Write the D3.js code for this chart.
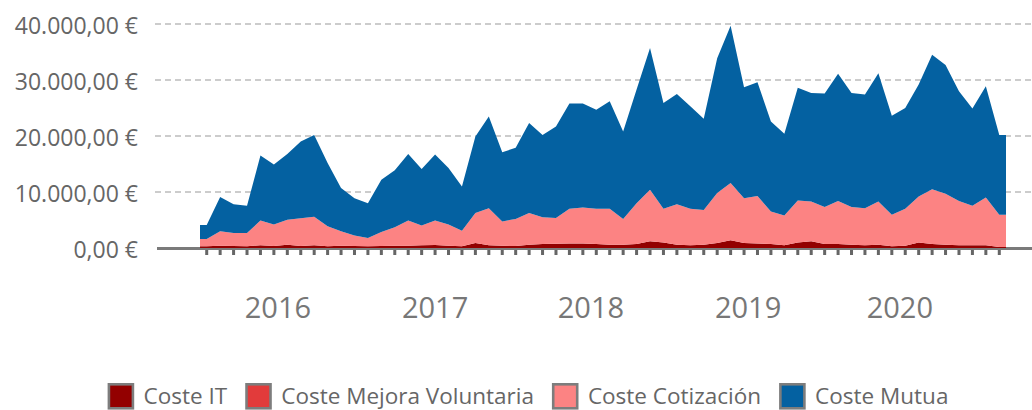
<!DOCTYPE html>
<html>
<head>
<meta charset="utf-8">
<script src="https://cdn.jsdelivr.net/npm/d3@7"></script>
<style>
    body { margin: 0; background: #fff; }
    svg { display: block; font-family: "Open Sans", sans-serif; }
</style>
</head>
<body>
<div id="chart"></div>
<script>
// monthly categories
var months = d3.timeMonth.range(new Date(2016, 0, 1), new Date(2021, 0, 1));

var costeIT = [300,400,350,300,500,350,600,350,500,300,
    400,350,300,350,400,400,500,550,400,300,
    900,500,400,350,600,700,750,800,800,700,
    600,600,700,1200,1000,600,500,600,900,1400,
    900,800,700,500,1000,1200,700,700,600,500,
    600,300,400,1000,700,600,500,500,500,200];

var costeMejora = [0,0,0,0,0,0,0,0,0,0,
    0,0,0,0,0,0,0,0,0,0,
    0,0,0,0,0,0,0,0,0,0,
    0,0,0,0,0,0,0,0,0,0,
    0,0,0,0,0,0,0,0,0,0,
    0,0,0,0,0,0,0,0,0,0];

var costeCotizacion = [1300,2600,2350,2400,4400,3850,4450,4950,5100,3600,
    2600,1900,1500,2500,3300,4500,3500,4350,3800,2800,
    5350,6600,4350,4850,5650,4800,4600,6200,6450,6300,
    6400,4600,7300,9200,6000,7200,6500,6200,8900,10200,
    8000,8500,5800,5300,7500,7100,6600,7700,6700,6600,
    7700,5650,6600,8200,9800,9100,7900,7050,8500,5750];

var costeMutua = [2500,6100,5100,4850,11600,10700,11750,13700,14600,11300,
    7700,6650,6200,9350,10200,11900,10100,11800,10100,7900,
    13650,16400,12350,12700,16050,14700,16350,18800,18550,17700,
    19200,15600,20300,25300,18900,19700,18300,16300,24100,28100,
    19800,20300,16100,14600,20100,19400,20300,22700,20400,20300,
    22900,17650,18000,20000,24000,23000,19600,17350,19900,14250];

var seriesKeys = ["it", "mejora", "cotizacion", "mutua"];
var seriesNames = ["Coste IT", "Coste Mejora Voluntaria", "Coste Cotización", "Coste Mutua"];
var seriesColors = ["#930000", "#e23b3b", "#fc8383", "#0461a1"];

var yTicks = [0, 10000, 20000, 30000, 40000];
var years = ["2016", "2017", "2018", "2019", "2020"];
var yearPos = [5.3, 17.0, 28.6, 40.3, 51.6];   // month index under each year label

var margin = { top: 24, right: 26, bottom: 162, left: 200 };
var width = 1032 - margin.left - margin.right;
var height = 410 - margin.top - margin.bottom;

var svg = d3.select("#chart").append("svg")
    .attr("width", width + margin.left + margin.right)
    .attr("height", height + margin.top + margin.bottom);

var g = svg.append("g")
    .attr("transform", "translate(" + margin.left + "," + margin.top + ")");

var n = months.length;
var rows = months.map(function (m, i) {
    return { date: m, it: costeIT[i], mejora: costeMejora[i], cotizacion: costeCotizacion[i], mutua: costeMutua[i] };
});

//scale
var x = d3.scaleLinear()
    .domain([-0.5, n - 0.5])
    .range([0, width]);

var y = d3.scaleLinear()
    .domain([0, 40000])
    .range([height, 0]);

var es = d3.formatLocale({ decimal: ",", thousands: ".", grouping: [3], currency: ["", " €"] });
var euro = es.format("$,.2f");

// grid
g.selectAll(".grid")
    .data(yTicks.filter(function (d) { return d > 0; }))
    .enter().append("line")
    .attr("class", "grid")
    .attr("x1", -45)
    .attr("x2", width + margin.right)
    .attr("y1", function (d) { return y(d); })
    .attr("y2", function (d) { return y(d); })
    .attr("stroke", "#bcbcbc")
    .attr("stroke-width", 1.5)
    .attr("stroke-dasharray", "6,4");

// zero line
g.append("line")
    .attr("x1", -43)
    .attr("x2", width + margin.right)
    .attr("y1", y(0) + 0.5)
    .attr("y2", y(0) + 0.5)
    .attr("stroke", "#7a7a7a")
    .attr("stroke-width", 3);

// y labels
g.selectAll(".ylab")
    .data(yTicks)
    .enter().append("text")
    .attr("class", "ylab")
    .attr("x", -62)
    .attr("y", function (d) { return y(d) + 10; })
    .attr("text-anchor", "end")
    .attr("fill", "#666")
    .style("font-size", "23px")
    .text(function (d) { return euro(d); });

// stacked areas
var stacked = d3.stack().keys(seriesKeys)(rows);

var area = d3.area()
    .x(function (d) { return x(d.i); })
    .y0(function (d) { return y(d.v[0]); })
    .y1(function (d) { return y(d.v[1]); });

stacked.forEach(function (s, k) {
    var pts = [{ i: -0.5, v: s[0] }]
        .concat(s.map(function (v, i) { return { i: i, v: v }; }))
        .concat([{ i: n - 0.5, v: s[n - 1] }]);
    g.append("path")
        .datum(pts)
        .attr("d", area)
        .attr("fill", seriesColors[k]);
});

// faint seams at each month
var top = stacked[stacked.length - 1];
g.selectAll(".seam")
    .data(top)
    .enter().append("line")
    .attr("x1", function (d, i) { return x(i); })
    .attr("x2", function (d, i) { return x(i); })
    .attr("y1", y(0))
    .attr("y2", function (d) { return y(d[1]) + 2; })
    .attr("stroke", "#ffffff")
    .attr("stroke-opacity", 0.13)
    .attr("stroke-width", 1);

// month ticks
g.selectAll(".tick")
    .data(months)
    .enter().append("rect")
    .attr("x", function (d, i) { return x(i) - 1.5; })
    .attr("y", y(0) + 2)
    .attr("width", 3)
    .attr("height", 5)
    .attr("fill", "#666");

// year labels
g.selectAll(".year")
    .data(years)
    .enter().append("text")
    .attr("x", function (d, i) { return x(yearPos[i]); })
    .attr("y", height + 70)
    .attr("text-anchor", "middle")
    .attr("fill", "#777")
    .style("font-size", "29px")
    .text(function (d) { return d; });

// legend
var legend = svg.append("g");
var lx = 0;
seriesNames.forEach(function (name, k) {
    var item = legend.append("g").attr("transform", "translate(" + lx + ",0)");
    item.append("rect")
        .attr("x", 1.3).attr("y", 1.3)
        .attr("width", 24).attr("height", 24)
        .attr("fill", seriesColors[k])
        .attr("stroke", "#7d7d7d")
        .attr("stroke-width", 2.6);
    var t = item.append("text")
        .attr("x", 36)
        .attr("y", 21)
        .attr("fill", "#666")
        .style("font-size", "22.5px")
        .text(name);
    lx += 36 + t.node().getComputedTextLength() + 18;
});
var lw = lx - 18;
legend.attr("transform", "translate(" + (528 - lw / 2) + ",383)");
</script>
</body>
</html>
